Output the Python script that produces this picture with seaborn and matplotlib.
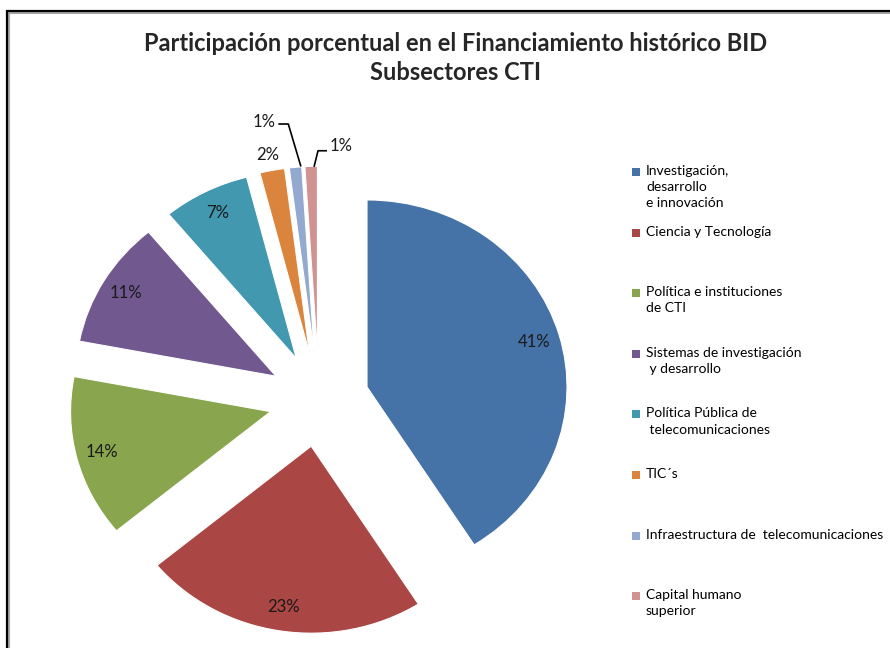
import matplotlib.pyplot as plt
import seaborn as sns
from matplotlib.patches import Rectangle

# data
categories = [
    "Investigación,\ndesarrollo\ne innovación",
    "Ciencia y Tecnología",
    "Política e instituciones\nde CTI",
    "Sistemas de investigación\n y desarrollo",
    "Política Pública de\n telecomunicaciones",
    "TIC´s",
    "Infraestructura de  telecomunicaciones",
    "Capital humano\nsuperior",
]
shares = [41, 23, 14, 11, 7, 2, 1, 1]
colors = ["#4572A7", "#AA4643", "#89A54E", "#71588F",
          "#4198AF", "#DB843D", "#93A9CF", "#D19392"]
title = "Participación porcentual en el Financiamiento histórico BID\nSubsectores CTI"

sns.set_theme(style="white")
plt.rcParams["font.family"] = ["Lato", "DejaVu Sans"]

W, H = 890, 648
fig = plt.figure(figsize=(W / 100, H / 100), dpi=100)

# pie axes: one radius = 200 px wide, 187 px tall (the original is a bit stretched)
rx, ry = 200, 187
cx, cy = 319, 400
xspan, yspan = 1.5, 1.32
ax = fig.add_axes([(cx - xspan * rx) / W, (H - cy - yspan * ry) / H,
                   2 * xspan * rx / W, 2 * yspan * ry / H])

wedges, texts, autotexts = ax.pie(
    shares,
    colors=colors,
    startangle=90,
    counterclock=False,
    explode=[0.25] * len(shares),
    autopct=lambda p: f"{p:.0f}%",
    pctdistance=0.87,
    textprops=dict(fontsize=12, color="#1a1a1a"),
    wedgeprops=dict(edgecolor="white", linewidth=0.8),
)
ax.set_aspect("auto")
ax.set_xlim(-xspan, xspan)
ax.set_ylim(-yspan, yspan)

# small slices get their labels outside, two of them with leader lines
outside = {5: (-0.208, 1.065), 6: (-0.25, 1.236), 7: (0.118, 1.11)}
leaders = {
    6: [(-0.067, 1.0), (-0.13, 1.227), (-0.18, 1.227)],
    7: [(-0.017, 0.997), (0.003, 1.083), (0.048, 1.083)],
}
for i, (dx, dy) in outside.items():
    wx, wy = wedges[i].center
    autotexts[i].set_position((wx + dx, wy + dy))
for i, pts in leaders.items():
    wx, wy = wedges[i].center
    ax.plot([wx + p[0] for p in pts], [wy + p[1] for p in pts],
            color="black", lw=1.2, solid_capstyle="butt", clip_on=False)

# legend, markers next to the first line of each entry
for k, (lab, col) in enumerate(zip(categories, colors)):
    yk = 172 + 60.6 * k
    fig.add_artist(Rectangle((632 / W, 1 - (yk + 4) / H), 8 / W, 8 / H,
                             transform=fig.transFigure, fc=col, ec="none"))
    fig.text(646 / W, 1 - (yk - 7) / H, lab, ha="left", va="top",
             fontsize=10, linespacing=1.42, color="black")

fig.text(456 / W, 1 - 58 / H, title, ha="center", va="center",
         fontsize=17, fontweight="bold", linespacing=1.35)

# chart area border with its grey shadow
fig.add_artist(Rectangle((9 / W, -0.1), 1.2, (H - 13) / H + 0.1,
                         transform=fig.transFigure, fill=False, lw=1.5, ec="#a8a8a8"))
fig.add_artist(Rectangle((7 / W, -0.1), 1.2, (H - 11) / H + 0.1,
                         transform=fig.transFigure, fill=False, lw=1.6, ec="black"))

fig.savefig("out.png", dpi=100)
